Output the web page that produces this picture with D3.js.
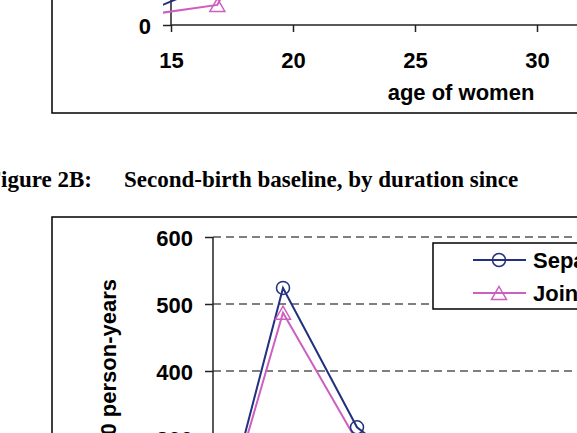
<!DOCTYPE html>
<html>
<head>
<meta charset="utf-8">
<script src="https://cdn.jsdelivr.net/npm/d3@7"></script>
<style>
  body { margin: 0; background: #fff; }
  svg { display: block; }
</style>
</head>
<body>
<svg id="chart"></svg>
<script>
// Data
// Panel A (bottom of it only): first-birth baseline by age of women
const ageTicks = [15, 20, 25, 30];
const ages = [14, 16.9, 19.2];
const ageSeparate = [20, 64, 210];
const ageJoint = [15, 30, 190];

// Panel B: second-birth baseline by duration since first birth
const durations = [0, 1, 2, 3];
const durSeparate = [100, 524, 316, 230];
const durJoint = [106, 487, 295, 220];
const rateTicks = [0, 100, 200, 300, 400, 500, 600];

const seriesNames = ["Separate models", "Joint model"];
const captionLabel = "Figure 2B:";
const captionText = "Second-birth baseline, by duration since";
const yLabelB = "Births per 1000 person-years";

const W = 577, H = 433;
const blue = "#22307f";
const pink = "#cc5fbf";
const sans = "'Liberation Sans', Arial, sans-serif";
const serif = "'Liberation Serif', 'Times New Roman', serif";
const fs = "22px";

const svg = d3.select("#chart").attr("width", W).attr("height", H);
svg.append("rect").attr("width", W).attr("height", H).attr("fill", "#fff");

// triangle marker, centred on its bounding box like the Excel one
function triangle(g, cx, cy, color) {
  g.append("path")
    .attr("d", `M${cx},${cy - 6.5}L${cx + 7.5},${cy + 6.5}L${cx - 7.5},${cy + 6.5}Z`)
    .attr("fill", "none")
    .attr("stroke", color)
    .attr("stroke-width", 1.5);
}

function circle(g, cx, cy, color) {
  g.append("circle")
    .attr("cx", cx).attr("cy", cy).attr("r", 6.5)
    .attr("fill", "none")
    .attr("stroke", color)
    .attr("stroke-width", 1.5);
}

function boldSans(sel) {
  return sel.style("font-family", sans).style("font-size", fs).style("font-weight", "bold");
}

// plot area clip for panel A
svg.append("defs").append("clipPath").attr("id", "clipA")
  .append("rect").attr("x", 163).attr("y", -400).attr("width", 600).attr("height", 430);

// 1. Panel A (cut at top)
const gA = svg.append("g");
const xA = d3.scaleLinear().domain([15, 30]).range([171, 537]);
const yA = d3.scaleLinear().domain([0, 300]).range([25, -176]);

gA.append("rect")
  .attr("x", 52).attr("y", -400)
  .attr("width", 700).attr("height", 513)
  .attr("fill", "none").attr("stroke", "#000").attr("stroke-width", 1.5);

const axA = gA.append("g")
  .attr("transform", `translate(0,${yA(0)})`)
  .call(d3.axisBottom(xA).tickValues(ageTicks).tickSize(7).tickSizeOuter(0).tickPadding(20));
axA.select(".domain").remove();

const ayA = gA.append("g")
  .attr("transform", `translate(${xA(15)},0)`)
  .call(d3.axisLeft(yA).tickValues([0]).tickSize(8).tickSizeOuter(0).tickPadding(12));
ayA.select(".domain").remove();

gA.append("line")
  .attr("x1", xA(15)).attr("x2", W + 10)
  .attr("y1", yA(0)).attr("y2", yA(0))
  .attr("stroke", "#222").attr("stroke-width", 1.5);
gA.append("line")
  .attr("x1", xA(15)).attr("x2", xA(15))
  .attr("y1", yA(0)).attr("y2", -10)
  .attr("stroke", "#222").attr("stroke-width", 1.5);

[axA, ayA].forEach((a) => {
  a.selectAll(".tick line").attr("stroke", "#222").attr("stroke-width", 1.5);
  boldSans(a.selectAll(".tick text").attr("fill", "#000"));
});
ayA.selectAll(".tick text").attr("dy", "0.38em");

boldSans(gA.append("text")
  .attr("x", 461).attr("y", 100)
  .attr("text-anchor", "middle"))
  .text("age of women");

const lineA = d3.line().x((d) => xA(d[0])).y((d) => yA(d[1]));
const sepA = ages.map((a, i) => [a, ageSeparate[i]]);
const joinA = ages.map((a, i) => [a, ageJoint[i]]);
const plotA = gA.append("g").attr("clip-path", "url(#clipA)");
plotA.append("path").attr("d", lineA(joinA)).attr("fill", "none").attr("stroke", pink).attr("stroke-width", 2);
plotA.append("path").attr("d", lineA(sepA)).attr("fill", "none").attr("stroke", blue).attr("stroke-width", 2);
joinA.forEach((d) => triangle(plotA, xA(d[0]), yA(d[1]), pink));
sepA.forEach((d) => circle(plotA, xA(d[0]), yA(d[1]), blue));

// 2. Caption
svg.append("text")
  .attr("x", 92).attr("y", 187)
  .attr("text-anchor", "end")
  .style("font-family", serif).style("font-size", "23px").style("font-weight", "bold")
  .text(captionLabel);
svg.append("text")
  .attr("x", 124).attr("y", 187)
  .style("font-family", serif).style("font-size", "23px").style("font-weight", "bold")
  .text(captionText);

// 3. Panel B (cut at bottom and right)
const gB = svg.append("g");
const xB = d3.scaleLinear().domain([0, 3]).range([209, 431]);
const yB = d3.scaleLinear().domain([0, 600]).range([639, 237]);
const axisX = 213;

gB.append("rect")
  .attr("x", 52).attr("y", 217)
  .attr("width", 700).attr("height", 500)
  .attr("fill", "none").attr("stroke", "#000").attr("stroke-width", 1.5);

// dashed gridlines
gB.append("g")
  .selectAll("line")
  .data(rateTicks.filter((d) => d > 0))
  .enter()
  .append("line")
  .attr("x1", axisX).attr("x2", W + 10)
  .attr("y1", (d) => yB(d)).attr("y2", (d) => yB(d))
  .attr("stroke", "#555").attr("stroke-width", 1.5)
  .attr("stroke-dasharray", "8,5");

const ayB = gB.append("g")
  .attr("transform", `translate(${axisX},0)`)
  .call(d3.axisLeft(yB).tickValues(rateTicks).tickSize(8).tickSizeOuter(0).tickPadding(12));
ayB.select(".domain").remove();
ayB.selectAll(".tick line").attr("stroke", "#222").attr("stroke-width", 1.5);
boldSans(ayB.selectAll(".tick text").attr("fill", "#000").attr("dy", "0.38em"));
gB.append("line")
  .attr("x1", axisX).attr("x2", axisX)
  .attr("y1", yB(600)).attr("y2", yB(0))
  .attr("stroke", "#222").attr("stroke-width", 1.5);

boldSans(gB.append("text")
  .attr("transform", `translate(116,279) rotate(-90)`)
  .attr("text-anchor", "end"))
  .text(yLabelB);

const lineB = d3.line().x((d) => xB(d[0])).y((d) => yB(d[1]));
const sepB = durations.map((t, i) => [t, durSeparate[i]]);
const joinB = durations.map((t, i) => [t, durJoint[i]]);
gB.append("path").attr("d", lineB(joinB)).attr("fill", "none").attr("stroke", pink).attr("stroke-width", 2);
gB.append("path").attr("d", lineB(sepB)).attr("fill", "none").attr("stroke", blue).attr("stroke-width", 2);
joinB.forEach((d) => triangle(gB, xB(d[0]), yB(d[1]), pink));
sepB.forEach((d) => circle(gB, xB(d[0]), yB(d[1]), blue));

// legend
const lg = gB.append("g");
lg.append("rect")
  .attr("x", 433).attr("y", 243)
  .attr("width", 300).attr("height", 66)
  .attr("fill", "#fff").attr("stroke", "#000").attr("stroke-width", 1.5);
const legendRows = [
  { name: seriesNames[0], color: blue, y: 260, mark: circle },
  { name: seriesNames[1], color: pink, y: 293, mark: triangle },
];
legendRows.forEach((r) => {
  lg.append("line")
    .attr("x1", 473).attr("x2", 526)
    .attr("y1", r.y).attr("y2", r.y)
    .attr("stroke", r.color).attr("stroke-width", 2);
  r.mark(lg, 499, r.y, r.color);
  boldSans(lg.append("text")
    .attr("x", 533).attr("y", r.y).attr("dy", "0.36em"))
    .text(r.name);
});
</script>
</body>
</html>
